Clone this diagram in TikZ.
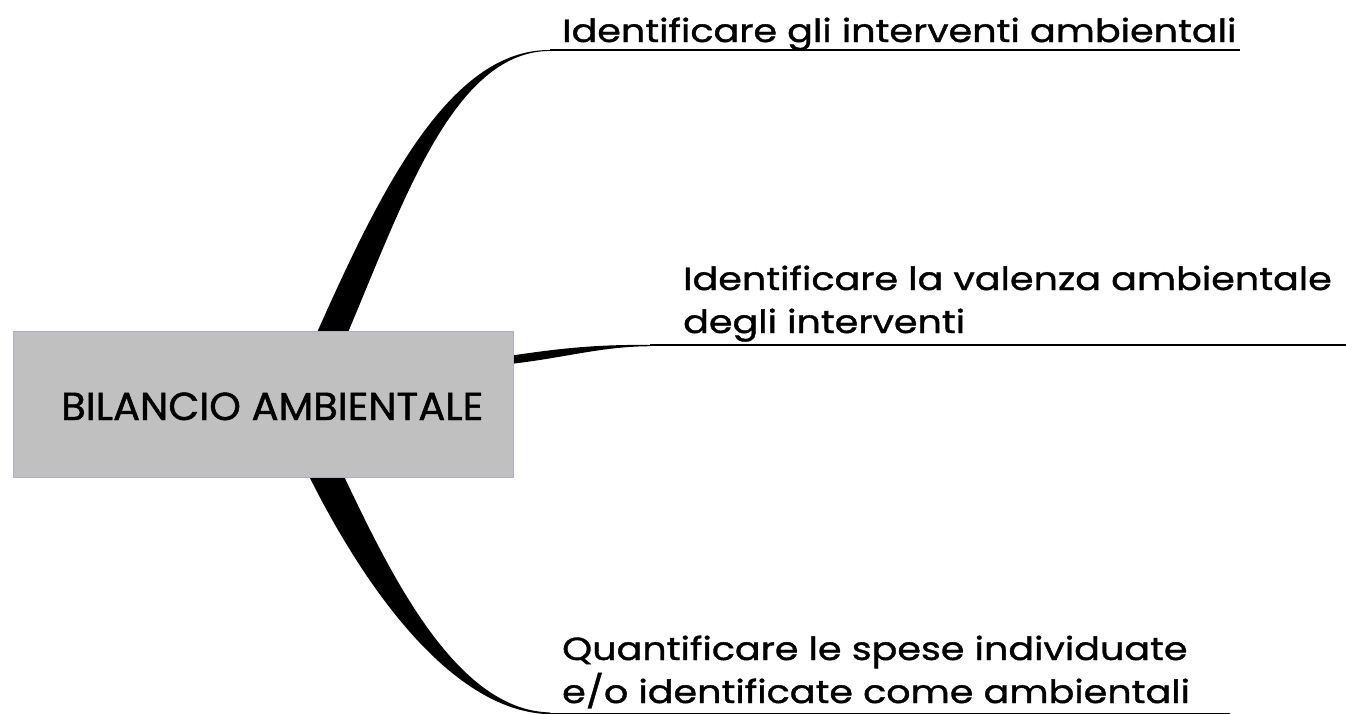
\documentclass[tikz,border=0pt]{standalone}
\usepackage{fontspec}
\setmainfont{Poppins}[FakeBold=1.2]
\newfontfamily\widefont{Poppins}[FakeBold=1.2, FakeStretch=1.19]
\newfontfamily\titlefont{Poppins}[FakeBold=1.2, FakeStretch=1.03]
\definecolor{boxfill}{HTML}{C0C0C0}
\definecolor{boxline}{HTML}{A9B1C2}
\begin{document}
\begin{tikzpicture}[x=1pt,y=-1pt,
  branch/.style={fill=black},
  uline/.style={line width=1.6pt},
  lbl/.style={anchor=base west, inner sep=0pt, align=left, font=\widefont\fontsize{32}{43}\selectfont},
  mainbox/.style={draw=boxline, fill=boxfill, line width=1.2pt, minimum width=500pt, minimum height=146pt, anchor=north west, inner sep=0pt}]
\useasboundingbox (0,0) rectangle (1346,713);
% coordinates of branch ends
\coordinate (b1) at (550,50);
\coordinate (b1e) at (1240,50);
\coordinate (b2) at (650,345);
\coordinate (b2e) at (1346,345);
\coordinate (b3) at (550,714.2);
\coordinate (b3e) at (1230,714.2);
% tapered branches
\fill[branch] (315,337) .. controls (377,198) and (447,49.2) .. (b1) -- ++(0,0.9)
  .. controls (453,51.5) and (403,203) .. (346,337) -- cycle;
\fill[branch] (506,356.5) .. controls (560,348) and (600,344.3) .. (b2) -- ++(0,1.2)
  .. controls (600,346.5) and (565,358) .. (506,364.5) -- cycle;
\fill[branch] (306,470) .. controls (356,572) and (446,712) .. (b3) -- ++(0,-1.8)
  .. controls (455,710.5) and (389,571) .. (341,470) -- cycle;
% underlines
\draw[uline] (b1) -- (b1e);
\draw[uline] (b2) -- (b2e);
\draw[uline] (b3) -- (b3e);
% central box
\node[mainbox] (main) at (13,331) {};
\node[anchor=base west, inner sep=0pt, font=\titlefont\fontsize{39}{40}\selectfont] (title) at (61,420) {BILANCIO AMBIENTALE};
% labels
\node[lbl] (t1) at (562,42) {Identificare gli interventi ambientali};
\node[lbl] (t2) at (683,333) {Identificare la valenza ambientale\\degli interventi};
\node[lbl] (t3) at (562,703) {Quantificare le spese individuate\\e/o identificate come ambientali};
\end{tikzpicture}
\end{document}
